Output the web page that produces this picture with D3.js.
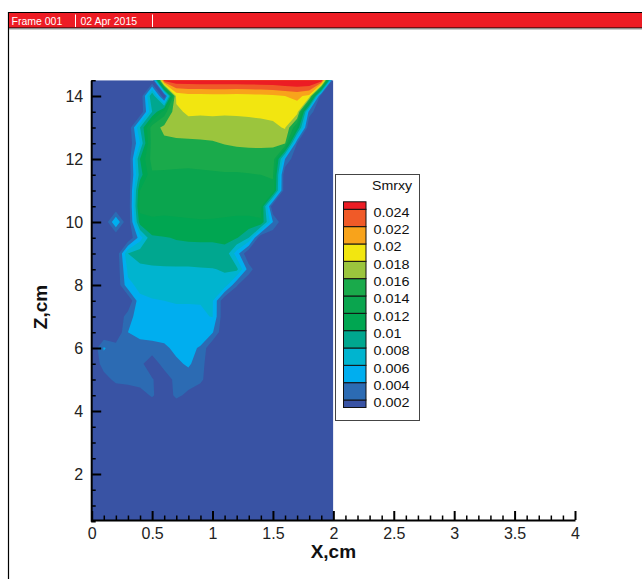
<!DOCTYPE html>
<html>
<head>
<meta charset="utf-8">
<script src="https://cdn.jsdelivr.net/npm/d3@7"></script>
<style>
  body { margin: 0; background: #fff; }
  svg { display: block; }
  text { font-family: "Liberation Sans", Arial, sans-serif; }
</style>
</head>
<body>
<svg id="chart" width="642" height="579"></svg>
<script>
// ---- Header ----
const frameTitle = "Frame 001";
const frameDate = "02 Apr 2015";

// ---- Axes ----
const xTicks = [0, 0.5, 1, 1.5, 2, 2.5, 3, 3.5, 4];
const zTicks = [2, 4, 6, 8, 10, 12, 14];
const xTitle = "X,cm";
const zTitle = "Z,cm";

// ---- Contour levels and legend ----
const variableName = "Smrxy";
const levels = [0.002, 0.004, 0.006, 0.008, 0.01, 0.012, 0.014, 0.016, 0.018, 0.02, 0.022, 0.024];
const levelLabels = ["0.002", "0.004", "0.006", "0.008", "0.01", "0.012", "0.014", "0.016", "0.018", "0.02", "0.022", "0.024"];
// band colours from below the first level up to above the last one
const bandColors = ["#3953a4", "#2c6bb3", "#00aeef", "#00b4cf", "#00a78f", "#00a651",
                    "#0aa54e", "#1aaa4b", "#9bc53d", "#f2e610", "#f8a31b", "#f05a28", "#ec1c24"];

// ---- Measured field: grid nodes (cm) and Smrxy values (x 1e-3) ----
const gridX = [0, 0.1, 0.2, 0.3, 0.4, 0.5, 0.6, 0.7, 0.8, 0.9, 1.0,
               1.1, 1.2, 1.3, 1.4, 1.5, 1.6, 1.7, 1.8, 1.9, 2.0];
const gridZ = [14.5, 14, 13.5, 13, 12.5, 12, 11.5, 11, 10.5, 10, 9.5, 9, 8.5, 8, 7.5,
               7, 6.5, 6, 5.5, 5, 4.5, 4, 3.5, 3, 2.5, 2, 1.5, 1, 0.5];
const smrxyRows = [
  [0,0,0,0,0,0,25,25.5,25.5,25.6,25.6,25.6,25.6,25.7,25.8,25.9,26.3,26.6,26.6,26.2,0],
  [0,0,0,0,0,10,0,18.5,19.2,19.2,19.3,19.3,19.2,19.3,19.4,19.6,20,20.4,19.5,0,0],
  [0,0,0,0,0,8,13,17.5,18.4,18.3,18.4,18.3,18.4,18.5,18.6,18.7,19,19.1,3,0,0],
  [0,0,0,0,8,15,16.5,16.8,17,17,17,17,16.9,17,17.2,17.5,18.2,12,0,0,0],
  [0,0,0,0,6,15,15.5,15.6,15.6,15.7,15.8,16.1,16.3,16.4,16.4,16.3,16.2,2,0,0,0],
  [0,0,0,0,10,14.8,14.7,14.7,14.7,14.8,14.9,14.9,14.9,15,15.1,15.2,4,0,0,0,0],
  [0,0,0,0,9,13.7,13.7,13.6,13.5,13.6,13.7,13.8,13.8,13.9,14,14.2,0,0,0,0,0],
  [0,0,0,0,12,13.3,13.2,13.3,13.4,13.4,13.4,13.3,13.2,13.2,13.3,13.5,0,0,0,0,0],
  [0,0,0,0,12.8,12.8,12.7,12.8,12.9,12.9,12.8,12.7,12.6,12.6,12.6,0,0,0,0,0,0],
  [0,0,6,0,11,11.6,11.5,11.6,11.7,11.8,11.8,11.7,11.6,11.6,11.8,4,0,0,0,0,0],
  [0,0,0,0,5,9.7,9.9,10.1,10.2,10.2,10.2,10.3,10.2,8,0,0,0,0,0,0,0],
  [0,0,0,8,9.2,9.3,9.3,9.4,9.4,9.5,9.5,9.6,5,0,0,0,0,0,0,0,0],
  [0,0,0,6.5,7.3,7.6,7.7,7.7,7.7,7.8,7.9,8.2,8.6,3,0,0,0,0,0,0,0],
  [0,0,0,5.5,6.5,6.6,6.7,6.7,6.7,6.8,6.9,7.3,2.2,0,0,0,0,0,0,0,0],
  [0,0,0,0,5.6,5.9,6.0,6.1,6.1,6.1,6.2,0,0,0,0,0,0,0,0,0,0],
  [0,0,0,3,5.3,5.4,5.5,5.6,5.6,5.7,6.1,0,0,0,0,0,0,0,0,0,0],
  [0,0,0,4,4.7,4.8,4.9,5.0,5.1,5.2,4.2,0,0,0,0,0,0,0,0,0,0],
  [0,4.2,3.0,3.0,3.1,3.3,3.6,4.5,4.5,3.8,0,0,0,0,0,0,0,0,0,0,0],
  [0,3.0,3.0,3.0,2.6,0.5,3.0,3.6,4.3,3.0,0,0,0,0,0,0,0,0,0,0,0],
  [0,1.0,2.6,3.0,3.0,2.2,0.5,2.8,3.0,2.6,0,0,0,0,0,0,0,0,0,0,0],
  [0,0,0,0,1.0,2.3,0.5,2.5,1.5,0,0,0,0,0,0,0,0,0,0,0,0],
  [0,0,0,0,0,0,0,0,0,0,0,0,0,0,0,0,0,0,0,0,0],
  [0,0,0,0,0,0,0,0,0,0,0,0,0,0,0,0,0,0,0,0,0],
  [0,0,0,0,0,0,0,0,0,0,0,0,0,0,0,0,0,0,0,0,0],
  [0,0,0,0,0,0,0,0,0,0,0,0,0,0,0,0,0,0,0,0,0],
  [0,0,0,0,0,0,0,0,0,0,0,0,0,0,0,0,0,0,0,0,0],
  [0,0,0,0,0,0,0,0,0,0,0,0,0,0,0,0,0,0,0,0,0],
  [0,0,0,0,0,0,0,0,0,0,0,0,0,0,0,0,0,0,0,0,0],
  [0,0,0,0,0,0,0,0,0,0,0,0,0,0,0,0,0,0,0,0,0]
];
const valueUnit = 1e-3;

// ---- Scales ----
const svg = d3.select("#chart");
const x = d3.scaleLinear().domain([0, 4]).range([91.7, 575]);
const z = d3.scaleLinear().domain([0.5, 14.5]).range([521.25, 80.25]);

// ---- Frame header ----
svg.append("line").attr("x1", 8.5).attr("x2", 8.5).attr("y1", 12).attr("y2", 579)
  .attr("stroke", "#000").attr("stroke-width", 1.2);
svg.append("rect").attr("x", 8.5).attr("y", 12.5).attr("width", 640).attr("height", 15.5)
  .attr("fill", "#ed1c24").attr("stroke", "#000").attr("stroke-width", 1);
svg.append("line").attr("x1", 9).attr("x2", 642).attr("y1", 29).attr("y2", 29)
  .attr("stroke", "#9a9a9a").attr("stroke-width", 1);
const header = svg.append("g").attr("fill", "#fff").attr("font-size", 10.5)
  .attr("font-family", '"DejaVu Sans", Verdana, sans-serif');
header.append("text").attr("x", 11.5).attr("y", 24.5).text(frameTitle);
header.append("text").attr("x", 80.5).attr("y", 24.5).text(frameDate);
[75.5, 152.5].forEach(px => {
  svg.append("line").attr("x1", px).attr("x2", px).attr("y1", 14.5).attr("y2", 27)
    .attr("stroke", "#fff").attr("stroke-width", 1);
});

// ---- Contour field ----
const nx = gridX.length, nz = gridZ.length;
const values = smrxyRows.flat().map(v => v * valueUnit);
const colToX = d3.scaleLinear().domain([0.5, nx - 0.5]).range([gridX[0], gridX[nx - 1]]);
const rowToZ = d3.scaleLinear().domain([0.5, nz - 0.5]).range([gridZ[0], gridZ[nz - 1]]);
const toScreen = d3.geoTransform({
  point(c, r) { this.stream.point(x(colToX(c)), z(rowToZ(r))); }
});
const contourPath = d3.geoPath(toScreen);
const bands = d3.contours().size([nx, nz]).thresholds(levels)(values);

const x0 = x(gridX[0]), x1 = x(gridX[nx - 1]);
const zTop = z(gridZ[0]), zBot = z(gridZ[nz - 1]);
svg.append("defs").append("clipPath").attr("id", "fieldClip")
  .append("rect").attr("x", x0).attr("y", zTop).attr("width", x1 - x0).attr("height", zBot - zTop);

const field = svg.append("g").attr("clip-path", "url(#fieldClip)");
field.append("rect").attr("x", x0).attr("y", zTop).attr("width", x1 - x0).attr("height", zBot - zTop)
  .attr("fill", bandColors[0]);
field.selectAll("path.band").data(bands).join("path")
  .attr("class", "band")
  .attr("d", contourPath)
  .attr("fill", (d, i) => bandColors[i + 1]);

// ---- Axes ----
const fmt = d => String(d);
const xMinor = d3.range(0, 40.5, 1).map(v => v / 10).filter(v => Math.abs(v * 2 - Math.round(v * 2)) > 1e-6);
const zMinor = d3.range(1, 30, 1).map(v => v / 2).filter(v => v % 2 !== 0);

function styleAxis(g, width) {
  g.select(".domain").attr("stroke", "#000").attr("stroke-width", 2);
  g.selectAll(".tick line").attr("stroke", "#000").attr("stroke-width", width);
  g.selectAll(".tick text").attr("font-family", '"Liberation Sans", Arial, sans-serif')
    .attr("font-size", 16).attr("fill", "#222");
}

const xAxisY = 520;
svg.append("g").attr("transform", `translate(0,${xAxisY})`)
  .call(d3.axisBottom(x).tickValues(xMinor).tickSize(-4.5).tickSizeOuter(0).tickFormat(""))
  .call(g => { g.select(".domain").remove(); g.selectAll(".tick line").attr("stroke", "#000").attr("stroke-width", 1.5); });
svg.append("g").attr("transform", `translate(0,${xAxisY})`)
  .call(d3.axisBottom(x).tickValues(xTicks).tickSize(-9).tickSizeOuter(0).tickPadding(7.5).tickFormat(fmt))
  .call(g => styleAxis(g, 2));

const yAxisX = 91.2;
svg.append("g").attr("transform", `translate(${yAxisX},0)`)
  .call(d3.axisLeft(z).tickValues(zMinor).tickSize(-4.5).tickSizeOuter(0).tickFormat(""))
  .call(g => { g.select(".domain").remove(); g.selectAll(".tick line").attr("stroke", "#000").attr("stroke-width", 1.5); });
svg.append("g").attr("transform", `translate(${yAxisX},0)`)
  .call(d3.axisLeft(z).tickValues(zTicks).tickSize(-10).tickSizeOuter(0).tickPadding(8).tickFormat(fmt))
  .call(g => styleAxis(g, 2));

// axis titles
svg.append("text").attr("x", x(2)).attr("y", 558).attr("text-anchor", "middle")
  .attr("font-size", 19).attr("font-weight", "bold").attr("fill", "#111").text(xTitle);
svg.append("text").attr("transform", `translate(47,${z(7.3)}) rotate(-90)`).attr("text-anchor", "middle")
  .attr("font-size", 19).attr("font-weight", "bold").attr("fill", "#111").text(zTitle);

// ---- Legend ----
const legend = svg.append("g");
legend.append("rect").attr("x", 335.5).attr("y", 174.5).attr("width", 84).attr("height", 246)
  .attr("fill", "#fff").attr("stroke", "#444").attr("stroke-width", 1);
legend.append("text").attr("transform", "translate(372,189.5) scale(1.18,1)")
  .attr("font-size", 12).attr("fill", "#111").text(variableName);

// level i (0 = lowest) sits at this boundary position
const legendLevelY = d3.scaleLinear().domain([0, levels.length - 1]).range([400, 209.3]);
const sw = { x: 343.5, w: 22.5, cap: 7.5 };
bandColors.forEach((col, i) => {
  const yLow = i === 0 ? legendLevelY(0) + sw.cap : legendLevelY(i - 1);
  const yHigh = i === bandColors.length - 1 ? legendLevelY(levels.length - 1) - sw.cap : legendLevelY(i);
  legend.append("rect").attr("x", sw.x).attr("y", yHigh).attr("width", sw.w).attr("height", yLow - yHigh)
    .attr("fill", col).attr("stroke", "#111").attr("stroke-width", 1);
});
levelLabels.forEach((lab, i) => {
  legend.append("text")
    .attr("transform", `translate(373.5,${legendLevelY(i) + 7.2}) scale(1.2,1)`)
    .attr("font-size", 12).attr("fill", "#111").text(lab);
});
</script>
</body>
</html>
